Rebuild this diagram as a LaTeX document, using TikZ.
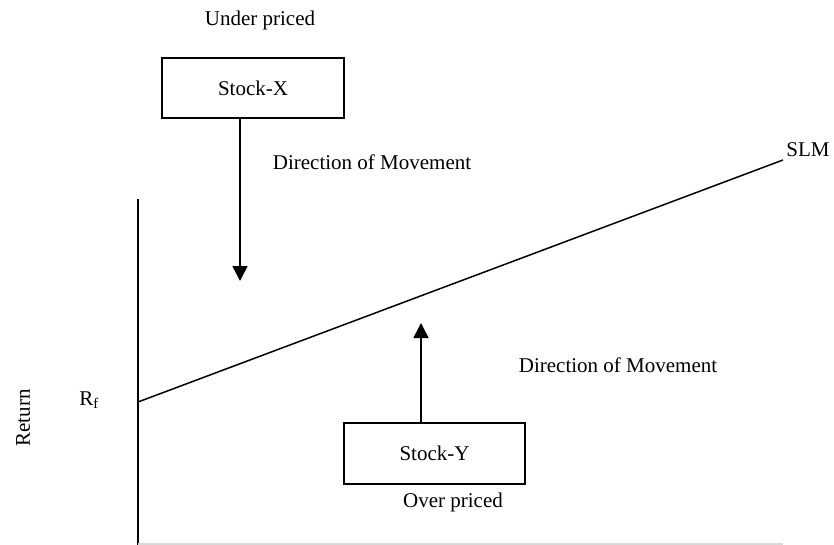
\documentclass[tikz,border=0pt]{standalone}
\usepackage{fontspec}
\setmainfont{Liberation Serif}
\usetikzlibrary{arrows.meta}
\begin{document}
\begin{tikzpicture}[x=1pt,y=-1pt,
  lbl/.style={font=\fontsize{21}{25}\selectfont, inner sep=0pt},
  stockbox/.style={draw, line width=1.5pt, font=\fontsize{21}{25}\selectfont, inner sep=0pt},
  mv/.style={line width=1.5pt, -{Triangle[length=15pt,width=15pt]}},
  ln/.style={line width=1.5pt}]
\useasboundingbox (0,0) rectangle (834,545);
% axis
\coordinate (ytop) at (138,199);
\coordinate (orig) at (138,545);
\coordinate (rf) at (138,402);
\coordinate (slmend) at (783,160);
\coordinate (xend) at (783,544);
\draw[ln] (ytop) -- (orig);
\draw[line width=1.2pt, black!15] (138,544) -- (xend);
\draw[ln] (rf) -- (slmend);
\node[lbl] (slm) at (808,150) {SLM};
\node[lbl] (rflbl) at (89,400) {R\textsubscript{f}};
\node[lbl, rotate=90] (ret) at (23,418) {Return};
% stock X
\node[lbl] (under) at (260,20) {Under priced};
\node[stockbox, minimum width=182pt, minimum height=60pt] (bx) at (253,88) {Stock-X};
\coordinate (xtip) at (240,281);
\draw[mv] (xtip |- bx.south) -- (xtip);
\node[lbl] (dm1) at (372,162) {Direction of Movement};
% stock Y
\node[stockbox, minimum width=181pt, minimum height=61pt] (by) at (434.5,453.5) {Stock-Y};
\node[lbl] (over) at (453,502) {Over priced};
\coordinate (ytip) at (421,323);
\draw[mv] (ytip |- by.north) -- (ytip);
\node[lbl] (dm2) at (618,365) {Direction of Movement};
\end{tikzpicture}
\end{document}
